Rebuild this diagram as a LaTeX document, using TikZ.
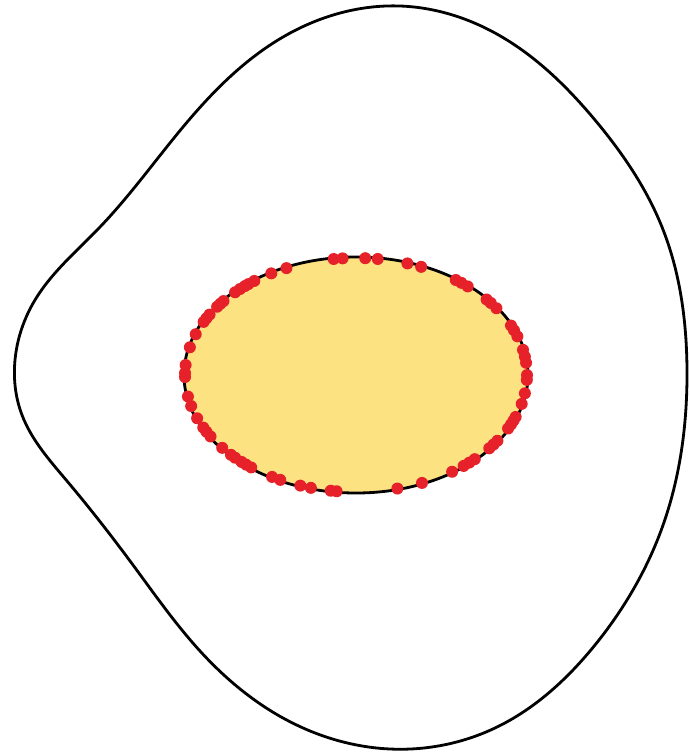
\documentclass[tikz,border=0pt]{standalone}
\usetikzlibrary{shapes.geometric,calc,hobby}
\begin{document}
\begin{tikzpicture}[x=1pt,y=-1pt,
  membrane/.style={draw=black,line width=2.8pt,line join=round},
  nucleus/.style={draw=black,line width=2.8pt,fill=nucfill},
  pore/.style={fill=porered}]
\definecolor{nucfill}{HTML}{FDE282}
\definecolor{porered}{HTML}{E62129}
\useasboundingbox (0,0) rectangle (690,756);
% outer cell membrane
\draw[membrane,use Hobby shortcut,closed=true]
  (400,6) .. (495,33) .. (595,120) .. (662,227) .. (687,370) .. (662,528)
  .. (595,645) .. (495,728) .. (390,749) .. (283,718) .. (200,651)
  .. (133,565) .. (67,481) .. (22,415) .. (15,360) .. (35,300)
  .. (100,227) .. (183,127) .. (283,37);
% nucleus
\node[nucleus,ellipse,minimum width=344pt,minimum height=236pt,inner sep=0pt] (nuc) at (356,375) {};
% pores along the nuclear envelope
\foreach \t in {246,240.3,262.5,265.5,273.1,277.3,287.5,292.4,305.7,308,310.8,
  319.8,322,325.2,335,337.5,340.7,347.6,351,354,0,2.4,9,14.3,21,23,25,27.2,
  34.2,36.5,38.8,46,48.5,51,55.8,67.3,76,96.5,98.5,105.3,109,116.3,
  119.4,127.8,130,132,135,137,141.5,148.3,151,153.3,158.3,164.6,169.4,
  179,181,184.9,193.7,200.4,207,209,211.1,215.7,217.5,219.2,225,227.3,229.5,231,233.5}
  \fill[pore] ($(nuc.center)+(\t:171 and 117)$) circle (6);
\end{tikzpicture}
\end{document}
